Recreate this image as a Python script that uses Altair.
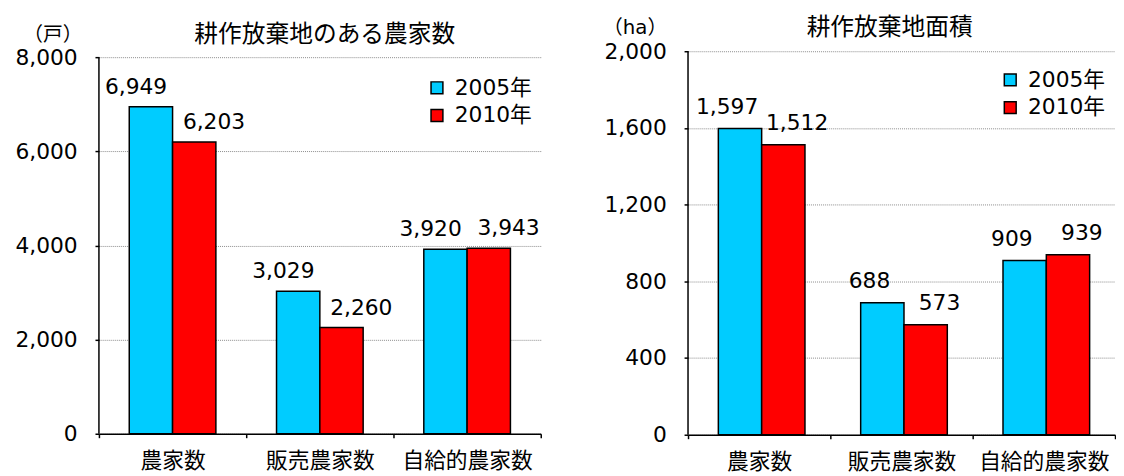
import altair as alt
import pandas as pd

CATEGORIES = ["農家数", "販売農家数", "自給的農家数"]
YEARS = ["2005年", "2010年"]
HOUSEHOLDS_2005 = [6949, 3029, 3920]
HOUSEHOLDS_2010 = [6203, 2260, 3943]
AREA_2005 = [1597, 688, 909]
AREA_2010 = [1512, 573, 939]
HOUSEHOLD_TICKS = [0, 2000, 4000, 6000, 8000]
AREA_TICKS = [0, 400, 800, 1200, 1600, 2000]
COLORS = ["#00CCFF", "#FF0000"]

FONT = "DejaVu Sans, Noto Sans CJK JP"
CJK = "Noto Sans CJK JP"


def frame(v05, v10):
    rows = []
    for c, a, b in zip(CATEGORIES, v05, v10):
        rows.append({"cat": c, "year": YEARS[0], "value": a})
        rows.append({"cat": c, "year": YEARS[1], "value": b})
    return pd.DataFrame(rows)


def panel(df, ticks, ymax, width, height, title, title_dx, title_dy, unit, unit_x, unit_y,
          legend_x, legend_y, dx05, dx10, dy):
    x = alt.X(
        "cat:N", sort=CATEGORIES, title=None,
        scale=alt.Scale(paddingInner=0, paddingOuter=0),
        axis=alt.Axis(labelAngle=0, labelFontSize=22, labelFont=CJK, labelColor="black",
                      labelPadding=13, tickBand="extent", tickSize=4, tickColor="black",
                      tickWidth=1.5, domainColor="black", domainWidth=1.5, grid=False),
    )
    xo = alt.XOffset("year:N", sort=YEARS,
                     scale=alt.Scale(paddingInner=0, paddingOuter=0.7))
    yscale = alt.Scale(domain=[0, ymax], nice=False, zero=True)
    y = alt.Y(
        "value:Q", stack=None, scale=yscale,
        axis=alt.Axis(values=ticks, format=",d", title=unit, titleAngle=0,
                      titleX=unit_x, titleY=unit_y, titleAlign="center",
                      titleBaseline="middle", titleFontSize=20, titleFont=FONT,
                      titleFontWeight="normal", titleColor="black",
                      labelFontSize=22, labelFont=FONT, labelColor="black",
                      labelPadding=18, tickSize=4, tickColor="black", tickWidth=1.5,
                      domain=False, grid=True, gridColor="#8c8c8c",
                      gridDash=[1, 1], gridWidth=1),
    )
    color = alt.Color(
        "year:N", sort=YEARS, scale=alt.Scale(domain=YEARS, range=COLORS),
        legend=alt.Legend(title=None, orient="none", legendX=legend_x, legendY=legend_y,
                          symbolType="square", symbolSize=144, symbolStrokeColor="black",
                          symbolStrokeWidth=1.5, symbolOpacity=1, labelFontSize=22,
                          labelFont=FONT, labelColor="black", labelOffset=7,
                          rowPadding=6, padding=0),
    )
    base = alt.Chart(df)
    bars = base.mark_bar(stroke="black", strokeWidth=1.5).encode(
        x=x, xOffset=xo, y=y, color=color)
    texts = []
    for yr, d in zip(YEARS, (dx05, dx10)):
        texts.append(
            base.transform_filter(alt.datum.year == yr)
            .mark_text(dx=d, dy=dy, fontSize=22, font=FONT, baseline="middle",
                       color="black")
            .encode(x=x, xOffset=xo,
                    y=alt.Y("value:Q", stack=None, scale=yscale),
                    text=alt.Text("value:Q", format=",d"))
        )
    axis_line = (
        base.transform_aggregate(n="count()")
        .mark_rule(color="black", strokeWidth=1.5)
        .encode(x=alt.value(0), y=alt.YDatum(0), y2=alt.Y2Datum(max(ticks)))
    )
    return alt.layer(bars, *texts, axis_line).properties(
        width=width, height=height,
        title=alt.TitleParams(text=title, font=CJK, fontSize=24, fontWeight="normal",
                              color="black", anchor="middle", dx=title_dx, dy=title_dy),
    )


left = panel(frame(HOUSEHOLDS_2005, HOUSEHOLDS_2010), HOUSEHOLD_TICKS, 8130, 447, 387,
             "耕作放棄地のある農家数", 5, 27, "（戸）", -47, -17, 331, 26, -15, 20, -20)
right = panel(frame(AREA_2005, AREA_2010), AREA_TICKS, 2000, 432, 388,
              "耕作放棄地面積", -12, 27, "（ha）", -54, -24, 315, 18, -13, 14, -22)

chart = (
    alt.hconcat(left, right, spacing=149, bounds="flush")
    .resolve_legend(color="independent")
    .properties(padding={"left": 7, "top": 6, "right": 0, "bottom": 0})
    .configure_view(stroke=None)
)

chart.save("out.html", embed_options={"renderer": "svg", "actions": False})
